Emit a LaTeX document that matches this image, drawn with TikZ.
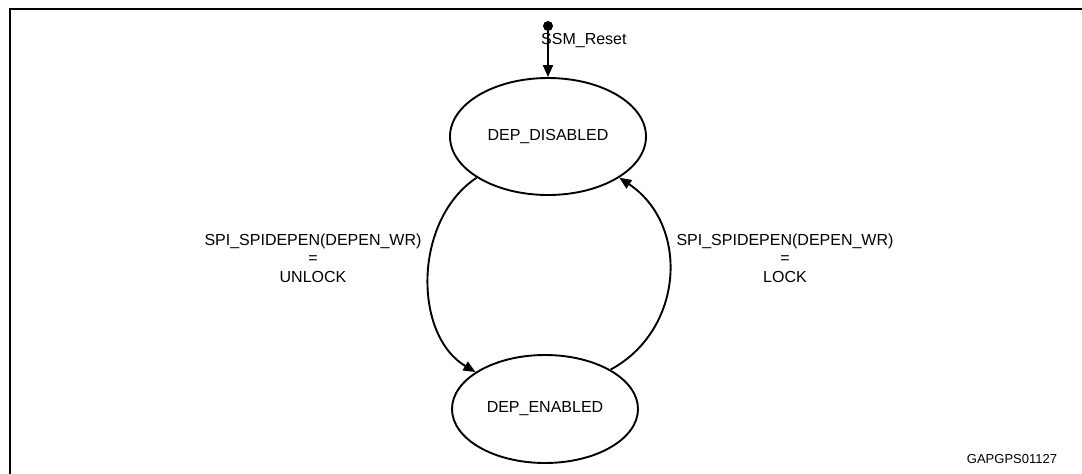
\documentclass[tikz,border=0pt]{standalone}
\usepackage{fontspec}
\setmainfont{Liberation Sans}
\usetikzlibrary{shapes.geometric,arrows.meta}
\begin{document}
\begin{tikzpicture}[x=1pt,y=-1pt,
 state/.style={draw, ellipse, line width=1.9pt, inner sep=0pt, label={[font=\fontsize{16}{18.5}\selectfont]center:#1}},
 trans/.style={line width=1.9pt, -{Triangle[length=12pt,width=10pt]}},
 lbl/.style={align=center, font=\fontsize{16}{18.5}\selectfont, inner sep=0pt},
 small/.style={font=\fontsize{13}{15}\selectfont, inner sep=0pt}]
\useasboundingbox (0,0) rectangle (1082,474);
\clip (0,0) rectangle (1082,474);
\draw[line width=2.6pt] (10,480) -- (10,9) -- (1090,9);
\node[state=DEP\_DISABLED, minimum width=196pt, minimum height=117pt] (dis) at (548,136.5) {};
\node[state=DEP\_ENABLED, minimum width=186pt, minimum height=108pt] (en) at (545,409) {};
\node[circle, fill, inner sep=0pt, minimum size=10pt] (init) at (548,26) {};
\draw[trans] (init) -- (dis);
\node[lbl, anchor=west] (rst) at (541,41) {SSM\_Reset};
\draw[trans] (dis.210) .. controls (413,220) and (413,335) .. (en.152);
\draw[trans] (en.31) .. controls (684,330) and (690,225) .. (dis.330);
\node[lbl] (ul) at (313,258) {SPI\_SPIDEPEN(DEPEN\_WR)\\=\\UNLOCK};
\node[lbl] (lk) at (785,258) {SPI\_SPIDEPEN(DEPEN\_WR)\\=\\LOCK};
\node[small] (id) at (1012,459) {GAPGPS01127};
\end{tikzpicture}
\end{document}
